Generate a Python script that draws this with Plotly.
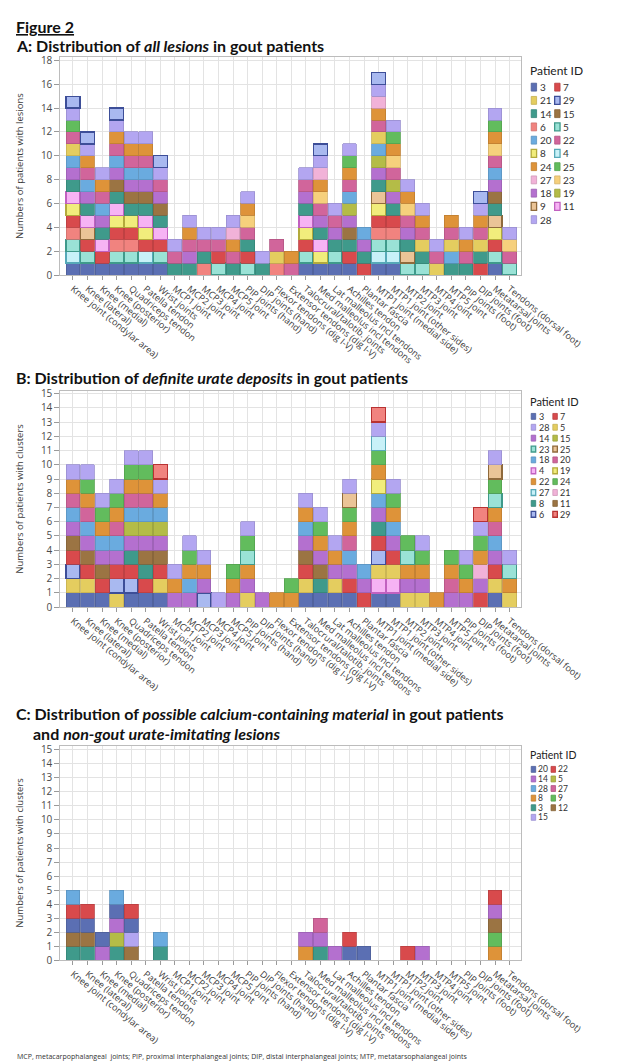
import plotly.graph_objects as go

W, H = 633, 1063

# ---------------- data ----------------
CATEGORIES = [
    "Knee joint (condylar area)", "Knee (lateral)", "Knee (medial)", "Knee (posterior)",
    "Quadriceps tendon", "Patella tendon", "Wrist joints",
    "MCP1 joint", "MCP2 joint", "MCP3 joint", "MCP4 joint", "MCP5 joint",
    "PIP joints (hand)", "DIP joints (hand)", "Flexor tendons (dig I-V)", "Extensor tendons (dig I-V)",
    "Talocrural/talotib. joints", "Med malleolus incl tendons", "Lat malleolus incl tendons",
    "Achilles tendon", "Plantar fascia",
    "MTP1 joint (medial side)", "MTP1 joint (other sides)", "MTP2 joint", "MTP3 joint",
    "MTP4 joint", "MTP5 joint",
    "PIP joints (foot)", "DIP joints (foot)", "Metatarsal joints", "Tendons (dorsal foot)",
]

# patients present in each site (one list per category), panel A: all lesions
A_MEMBERS = [
    [3, 4, 5, 6, 7, 8, 11, 14, 18, 20, 21, 22, 25, 28, 29],
    [3, 5, 7, 9, 11, 14, 18, 20, 22, 24, 28, 29],
    [3, 7, 11, 14, 18, 20, 22, 24, 28],
    [3, 5, 6, 7, 8, 11, 14, 15, 18, 20, 22, 24, 28, 29],
    [3, 5, 6, 7, 8, 14, 15, 18, 20, 22, 24, 28],
    [3, 4, 7, 8, 11, 14, 15, 18, 20, 22, 24, 28],
    [3, 5, 7, 11, 14, 15, 18, 22, 28, 29],
    [14, 22, 28],
    [14, 18, 22, 24, 28],
    [6, 14, 22, 28],
    [5, 7, 22, 28],
    [14, 22, 24, 27, 28],
    [5, 7, 14, 22, 23, 24, 28],
    [14, 28],
    [6, 21, 22],
    [22, 24],
    [3, 5, 7, 8, 11, 14, 18, 22, 28],
    [3, 8, 11, 14, 18, 22, 23, 24, 27, 28, 29],
    [3, 5, 14, 18, 22, 28],
    [3, 7, 14, 15, 18, 19, 20, 22, 24, 25, 28],
    [7, 14, 18, 20],
    [3, 4, 5, 6, 7, 8, 9, 14, 18, 19, 20, 21, 22, 24, 27, 28, 29],
    [3, 4, 5, 6, 7, 14, 18, 19, 22, 23, 24, 25, 28],
    [5, 9, 14, 18, 22, 23, 24, 28],
    [5, 14, 21, 22, 24, 28],
    [21, 22, 28],
    [14, 20, 21, 22, 24],
    [14, 22, 24, 28],
    [7, 14, 21, 22, 24, 28, 29],
    [3, 5, 7, 8, 9, 14, 15, 18, 20, 22, 23, 24, 25, 28],
    [5, 22, 23, 28],
]

# panel B: definite urate deposits
B_MEMBERS = [
    [3, 5, 6, 7, 11, 14, 18, 20, 22, 28],
    [3, 5, 7, 11, 14, 18, 20, 22, 24, 28],
    [3, 7, 11, 14, 18, 22, 24, 28],
    [5, 6, 7, 14, 18, 20, 22, 24, 28],
    [3, 6, 7, 8, 14, 15, 18, 20, 22, 24, 28],
    [3, 7, 8, 11, 14, 15, 18, 20, 22, 24, 28],
    [3, 5, 7, 11, 14, 15, 18, 22, 28, 29],
    [14, 22, 28],
    [14, 18, 22, 24, 28],
    [6, 14, 22, 28],
    [28],
    [14, 22, 24],
    [5, 14, 22, 23, 24, 28],
    [14],
    [22],
    [22, 24],
    [3, 5, 7, 11, 14, 18, 22, 28],
    [3, 8, 11, 14, 22, 24, 28],
    [3, 5, 14, 22, 28],
    [3, 7, 14, 18, 20, 22, 24, 25, 28],
    [7, 14, 18],
    [3, 4, 5, 6, 7, 8, 14, 18, 19, 22, 24, 27, 28, 29],
    [3, 4, 5, 7, 14, 18, 22, 24, 28],
    [5, 14, 22, 23, 24],
    [5, 14, 22, 24, 28],
    [22],
    [14, 20, 22, 24],
    [14, 22, 24, 28],
    [7, 14, 21, 22, 24, 28, 29],
    [3, 5, 7, 14, 18, 20, 22, 23, 24, 25, 28],
    [5, 22, 23, 28],
]

# panel C: possible calcium-containing material / non-gout lesions
C_MEMBERS = [
    [3, 12, 20, 22, 28], [3, 12, 20, 22], [14, 20], [3, 5, 14, 20, 28], [12, 15, 20, 22], [], [3, 28],
    [], [], [], [], [], [], [], [], [],
    [8, 14], [3, 14, 27], [14], [20, 22], [20],
    [], [], [22], [14], [], [], [], [], [8, 9, 12, 14, 22], [],
]

# legend order (rows of two)
A_LEGEND = [3, 7, 21, 29, 14, 15, 6, 5, 20, 22, 8, 4, 24, 25, 27, 23, 18, 19, 9, 11, 28]
B_LEGEND = [3, 7, 28, 5, 14, 15, 23, 25, 18, 20, 4, 19, 22, 24, 27, 21, 8, 11, 6, 29]
C_LEGEND = [20, 22, 14, 5, 28, 27, 8, 9, 3, 12, 15]

A_YTICKS = list(range(0, 19, 2))
B_YTICKS = list(range(0, 16))
C_YTICKS = list(range(0, 16))

# ---------------- styles ----------------
DBLUE, RED, GOLD, TEAL, BROWN = "#5b6fb3", "#d84a4c", "#e4cd5f", "#3f9a8b", "#9b7443"
SALMON, BLUE, MAGENTA, ORANGE, GREEN = "#f1837f", "#6aabdf", "#d1659b", "#de9339", "#62bc5d"
LPINK, LORANGE, PURPLE, OLIVE, LAV = "#f1b2d8", "#f6d07c", "#b470cf", "#b4bc47", "#b3a6f1"
# (fill, outline)
A_STYLE = {
    3: (DBLUE, None), 7: (RED, None), 21: (GOLD, None), 29: ("#a9b9f0", "#3d4e98"),
    14: (TEAL, None), 15: (BROWN, None), 6: (SALMON, None), 5: ("#9ae2d6", "#3f9a8b"),
    20: (BLUE, None), 22: (MAGENTA, None), 8: ("#f1ed7c", "#b3aa3c"), 4: ("#c8f1f8", "#56a9b8"),
    24: (ORANGE, None), 25: (GREEN, None), 27: (LPINK, None), 23: (LORANGE, None),
    18: (PURPLE, None), 19: (OLIVE, None), 9: ("#eac497", "#8f6a3c"), 11: ("#f6b3f4", "#c161c0"),
    28: (LAV, None),
}
B_STYLE = {
    3: (DBLUE, None), 7: (RED, None), 28: (LAV, None), 5: (GOLD, None), 14: (PURPLE, None),
    15: (OLIVE, None), 23: ("#9ae2d6", "#3f9a8b"), 25: ("#eac497", "#8f6a3c"), 18: (BLUE, None),
    20: (MAGENTA, None), 4: ("#f6b3f4", "#c161c0"), 19: ("#f1ed7c", "#b3aa3c"), 22: (ORANGE, None),
    24: (GREEN, None), 27: ("#c8f1f8", "#56a9b8"), 21: (LPINK, None), 8: (TEAL, None),
    11: (BROWN, None), 6: ("#a9b9f0", "#3d4e98"), 29: ("#f1837f", "#b83232"),
}
C_STYLE = {
    20: (DBLUE, None), 22: (RED, None), 14: (PURPLE, None), 5: (OLIVE, None), 28: (BLUE, None),
    27: (MAGENTA, None), 8: (ORANGE, None), 9: (GREEN, None), 3: (TEAL, None), 12: (BROWN, None),
    15: (LAV, None),
}


def darken(hexc, f=0.78):
    h = hexc.lstrip("#")
    r, g, b = (int(h[i:i + 2], 16) for i in (0, 2, 4))
    return "#%02x%02x%02x" % (int(r * f), int(g * f), int(b * f))


def outline(style):
    fill, line = style
    if line is None:
        return darken(fill, 0.86), 0.8
    return line, 1.3


def py(p):
    return 1 - p / H


def pxx(p):
    return p / W


FONT = "Open Sans"
TFONT = "Lato"

fig = go.Figure()

panels = [
    (A_MEMBERS, A_STYLE, 45, 265, 18.25, A_YTICKS, "Numbers of patients with lesions", "x", "y"),
    (B_MEMBERS, B_STYLE, 382, 601, 15.2, B_YTICKS, "Numbers of patients with clusters", "x2", "y2"),
    (C_MEMBERS, C_STYLE, 741, 958, 15.3, C_YTICKS, "Numbers of patients with clusters", "x3", "y3"),
]

X0, X1 = 58, 569
shapes, annots = [], []

for k, (members, style, yt, yb, ymax, yticks, ylab, xa, ya) in enumerate(panels):
    patients = sorted(style.keys())
    for p in patients:
        vals = [1 if p in m else None for m in members]
        lc, lw = outline(style[p])
        fig.add_trace(go.Bar(
            x=CATEGORIES, y=vals, xaxis=xa, yaxis=ya, name=str(p),
            marker=dict(color=style[p][0], line=dict(color=lc, width=lw)),
            showlegend=False,
        ))
    sfx = "" if k == 0 else str(k + 1)
    fig.layout["xaxis" + sfx] = dict(
        domain=[pxx(X0), pxx(X1)], anchor=ya, type="category",
        range=[-0.87, 30.8], tickangle=39,
        tickfont=dict(family=FONT, size=9.2, color="#3c3c3c"),
        showgrid=True, gridcolor="#e3e3e3", gridwidth=1,
        ticks="outside", ticklen=4, tickcolor="#9a9a9a",
        showline=True, linecolor="#bcbcbc", linewidth=1, mirror=True,
        fixedrange=True,
    )
    fig.layout["yaxis" + sfx] = dict(
        domain=[py(yb), py(yt)], anchor=xa, range=[0, ymax],
        tickvals=yticks, tickfont=dict(family=FONT, size=10, color="#4a4a4a"),
        showgrid=True, gridcolor="#e3e3e3", gridwidth=1, zeroline=False,
        ticks="outside", ticklen=5, tickcolor="#9a9a9a",
        showline=True, linecolor="#bcbcbc", linewidth=1, mirror=True,
        fixedrange=True,
    )
    annots.append(dict(
        x=pxx(13), y=py((yt + yb) / 2), xref="paper", yref="paper", text=ylab,
        textangle=-90, showarrow=False, font=dict(family=FONT, size=9.5, color="#3c3c3c"),
        xanchor="center", yanchor="middle",
    ))

# ---------------- legends (drawn as swatches + text) ----------------
LEG = [
    # legend list, style, title_y, row0, dy, font size, title size, sw, sh, col x, text offset
    (A_LEGEND, A_STYLE, 58, 75, 13.4, 10, 12, 6, 8, (580, 606), 8),
    (B_LEGEND, B_STYLE, 393, 408, 11.0, 9, 11, 5, 6, (580, 604), 7),
    (C_LEGEND, C_STYLE, 750, 765, 9.7, 8.5, 10.5, 5, 6, (580, 602), 6.5),
]
for legend, style, ty, r0, dy, fs, ts, sw, sh, cols, tx in LEG:
    annots.append(dict(x=pxx(577), y=py(ty), xref="paper", yref="paper", text="Patient ID",
                       showarrow=False, xanchor="left", yanchor="middle",
                       font=dict(family=TFONT, size=ts, color="#222")))
    for i, p in enumerate(legend):
        row, col = divmod(i, 2)
        cy = r0 + row * dy
        sx = cols[col]
        fill = style[p][0]
        lc, lw = outline(style[p])
        shapes.append(dict(type="rect", xref="paper", yref="paper",
                           x0=pxx(sx), x1=pxx(sx + sw), y0=py(cy + sh / 2), y1=py(cy - sh / 2),
                           fillcolor=fill, line=dict(color=lc, width=lw)))
        annots.append(dict(x=pxx(sx + tx - 1), y=py(cy), xref="paper", yref="paper", text=str(p),
                           showarrow=False, xanchor="left", yanchor="middle",
                           font=dict(family=TFONT, size=fs, color="#333")))

# ---------------- titles ----------------
TITLES = [
    ("<b><u>Figure 2</u></b>", 7, 14, 16),
    ("<b>A: Distribution of <i>all lesions</i> in gout patients</b>", 7, 33, 16),
    ("<b>B: Distribution of <i>definite urate deposits</i> in gout patients</b>", 7, 369, 16),
    ("<b>C: Distribution of <i>possible calcium-containing material</i> in gout patients</b>", 7, 709, 16),
    ("<b>and <i>non-gout urate-imitating lesions</i></b>", 25, 729, 16),
]
for txt, x, y, s in TITLES:
    annots.append(dict(x=pxx(x), y=py(y), xref="paper", yref="paper", text=txt, showarrow=False,
                       xanchor="left", yanchor="middle", font=dict(family=TFONT, size=s, color="#111")))

annots.append(dict(
    x=pxx(8), y=py(1055), xref="paper", yref="paper", showarrow=False, xanchor="left", yanchor="middle",
    text="MCP, metacarpophalangeal  joints; PIP, proximal interphalangeal joints; DIP, distal interphalangeal joints; MTP, metatarsophalangeal joints",
    font=dict(family=FONT, size=7, color="#333"),
))

fig.update_layout(
    width=W, height=H, margin=dict(l=0, r=0, t=0, b=0),
    paper_bgcolor="white", plot_bgcolor="white",
    barmode="stack", bargap=0.05,
    shapes=shapes, annotations=annots, showlegend=False,
)

fig.write_html("out.html")
